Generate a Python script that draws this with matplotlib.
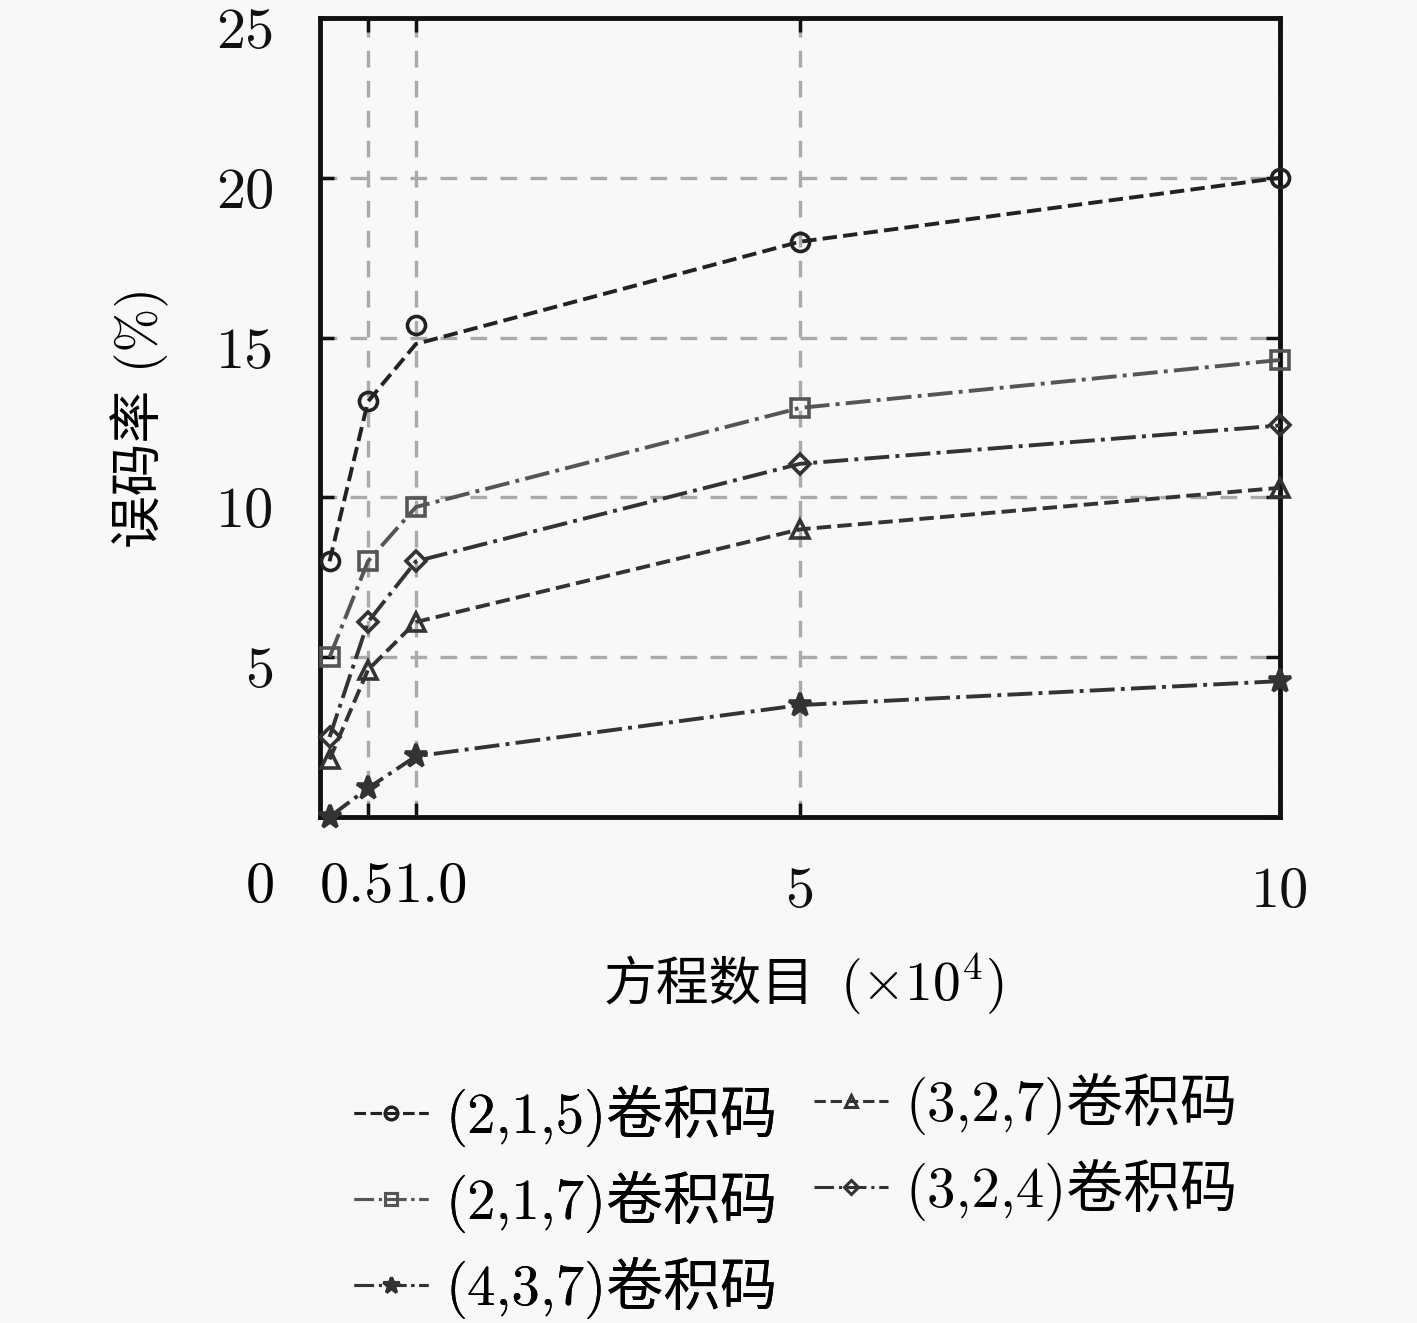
import matplotlib
matplotlib.use("Agg")
import matplotlib.pyplot as plt
import matplotlib.transforms as mtransforms
from matplotlib.lines import Line2D

plt.rcParams["font.family"] = ["cmr10", "Noto Sans CJK SC"]
plt.rcParams["mathtext.fontset"] = "cm"
plt.rcParams["axes.unicode_minus"] = False
plt.rcParams["axes.formatter.use_mathtext"] = True

# data
x_vals = [0.1, 0.5, 1.0, 5, 10]
codes = ["(2,1,5)卷积码", "(2,1,7)卷积码", "(4,3,7)卷积码", "(3,2,7)卷积码", "(3,2,4)卷积码"]
err_215 = [8.0, 13.0, 15.4, 18.0, 20.0]
err_215_line = [8.0, 13.0, 14.8, 18.0, 20.0]  # line misses the 1.0 marker in the original
err_217 = [5.0, 8.0, 9.7, 12.8, 14.3]
err_437 = [0.0, 0.9, 1.9, 3.5, 4.25]
err_327 = [1.8, 4.6, 6.1, 9.0, 10.3]
err_324 = [2.5, 6.1, 8.0, 11.05, 12.25]

bg = "#f8f8f8"
fig = plt.figure(figsize=(14.17, 13.23), dpi=100, facecolor=bg)
ax = fig.add_axes([0.2258, 0.3825, 0.6775, 0.6039], facecolor=bg)

styles = [
    (err_215, err_215_line, "o", "--", "#222222", "none"),
    (err_217, err_217, "s", "-.", "#555555", "none"),
    (err_437, err_437, "*", "-.", "#333333", "#333333"),
    (err_327, err_327, "^", "--", "#333333", "none"),
    (err_324, err_324, "D", "-.", "#333333", "none"),
]
handles = []
for (ys, ys_line, mk, ls, col, fc), name in zip(styles, codes):
    ax.plot(x_vals, ys_line, linestyle=ls, color=col, lw=2.8, zorder=3)
    ms = 13 if mk != "D" else 10
    if mk == "*":
        ms = 17
    ax.plot(x_vals, ys, linestyle="none", marker=mk, ms=ms, mfc=fc, mec=col,
            mew=2.6, zorder=4, clip_on=False)
    handles.append(Line2D([], [], linestyle=ls, color=col, lw=2.2, marker=mk,
                          ms=ms * 0.7, mfc=fc, mec=col, mew=2.2, label=name))

ax.set_xlim(0, 10)
ax.set_ylim(0, 25)
ax.set_xticks([0.5, 1.0, 5, 10])
ax.set_xticklabels(["", "", "5", "10"])
ax.set_yticks([0, 5, 10, 15, 20, 25])
ax.set_yticklabels(["", "5", "10", "15", "20", "25"])
ax.grid(True, linestyle=(0, (5, 4)), color="#aaaaaa", lw=2.4)
ax.set_axisbelow(True)
ax.tick_params(direction="in", length=10, width=2.5, top=True, right=True,
               labelsize=42, colors="#111111")
ax.tick_params(axis="y", pad=33)
ax.tick_params(axis="x", pad=36)
for lab in ax.get_yticklabels():
    lab.set_transform(lab.get_transform() + mtransforms.ScaledTranslation(0, -0.1, fig.dpi_scale_trans))
for s in ax.spines.values():
    s.set_linewidth(3.5)
    s.set_color("#111111")

# crowded tick labels at 0.5 and 1.0, and the stray 0
tr = mtransforms.blended_transform_factory(ax.transData, fig.transFigure)
ax.text(0.77, 1 - 887 / 1323, "0.5", transform=tr, ha="right", va="center", fontsize=42)
ax.text(0.77, 1 - 887 / 1323, "1.0", transform=tr, ha="left", va="center", fontsize=42)
fig.text(260 / 1417, 1 - 887 / 1323, "0", ha="center", va="center", fontsize=42)

fig.text(140 / 1417, 1 - 418 / 1323, "误码率 (%)", rotation=90, ha="center", va="center",
         fontsize=38)
fig.text(815 / 1417, 1 - 985 / 1323, "方程数目", ha="right", va="center", fontsize=38)
fig.text(840 / 1417, 1 - 985 / 1323, "$(\\times10^4)$", ha="left", va="center", fontsize=40)

leg_kw = dict(loc="upper left", frameon=False, fontsize=41, handlelength=1.3,
              handletextpad=0.3, labelspacing=0.42, borderpad=0, borderaxespad=0)
leg1 = fig.legend(handles=[handles[0], handles[1], handles[2]],
                  bbox_to_anchor=(354 / 1417, 1 - 1085 / 1323), **leg_kw)
fig.add_artist(leg1)
fig.legend(handles=[handles[3], handles[4]],
           bbox_to_anchor=(814 / 1417, 1 - 1073 / 1323), **leg_kw)

fig.savefig("out.png", dpi=100, facecolor=bg)
